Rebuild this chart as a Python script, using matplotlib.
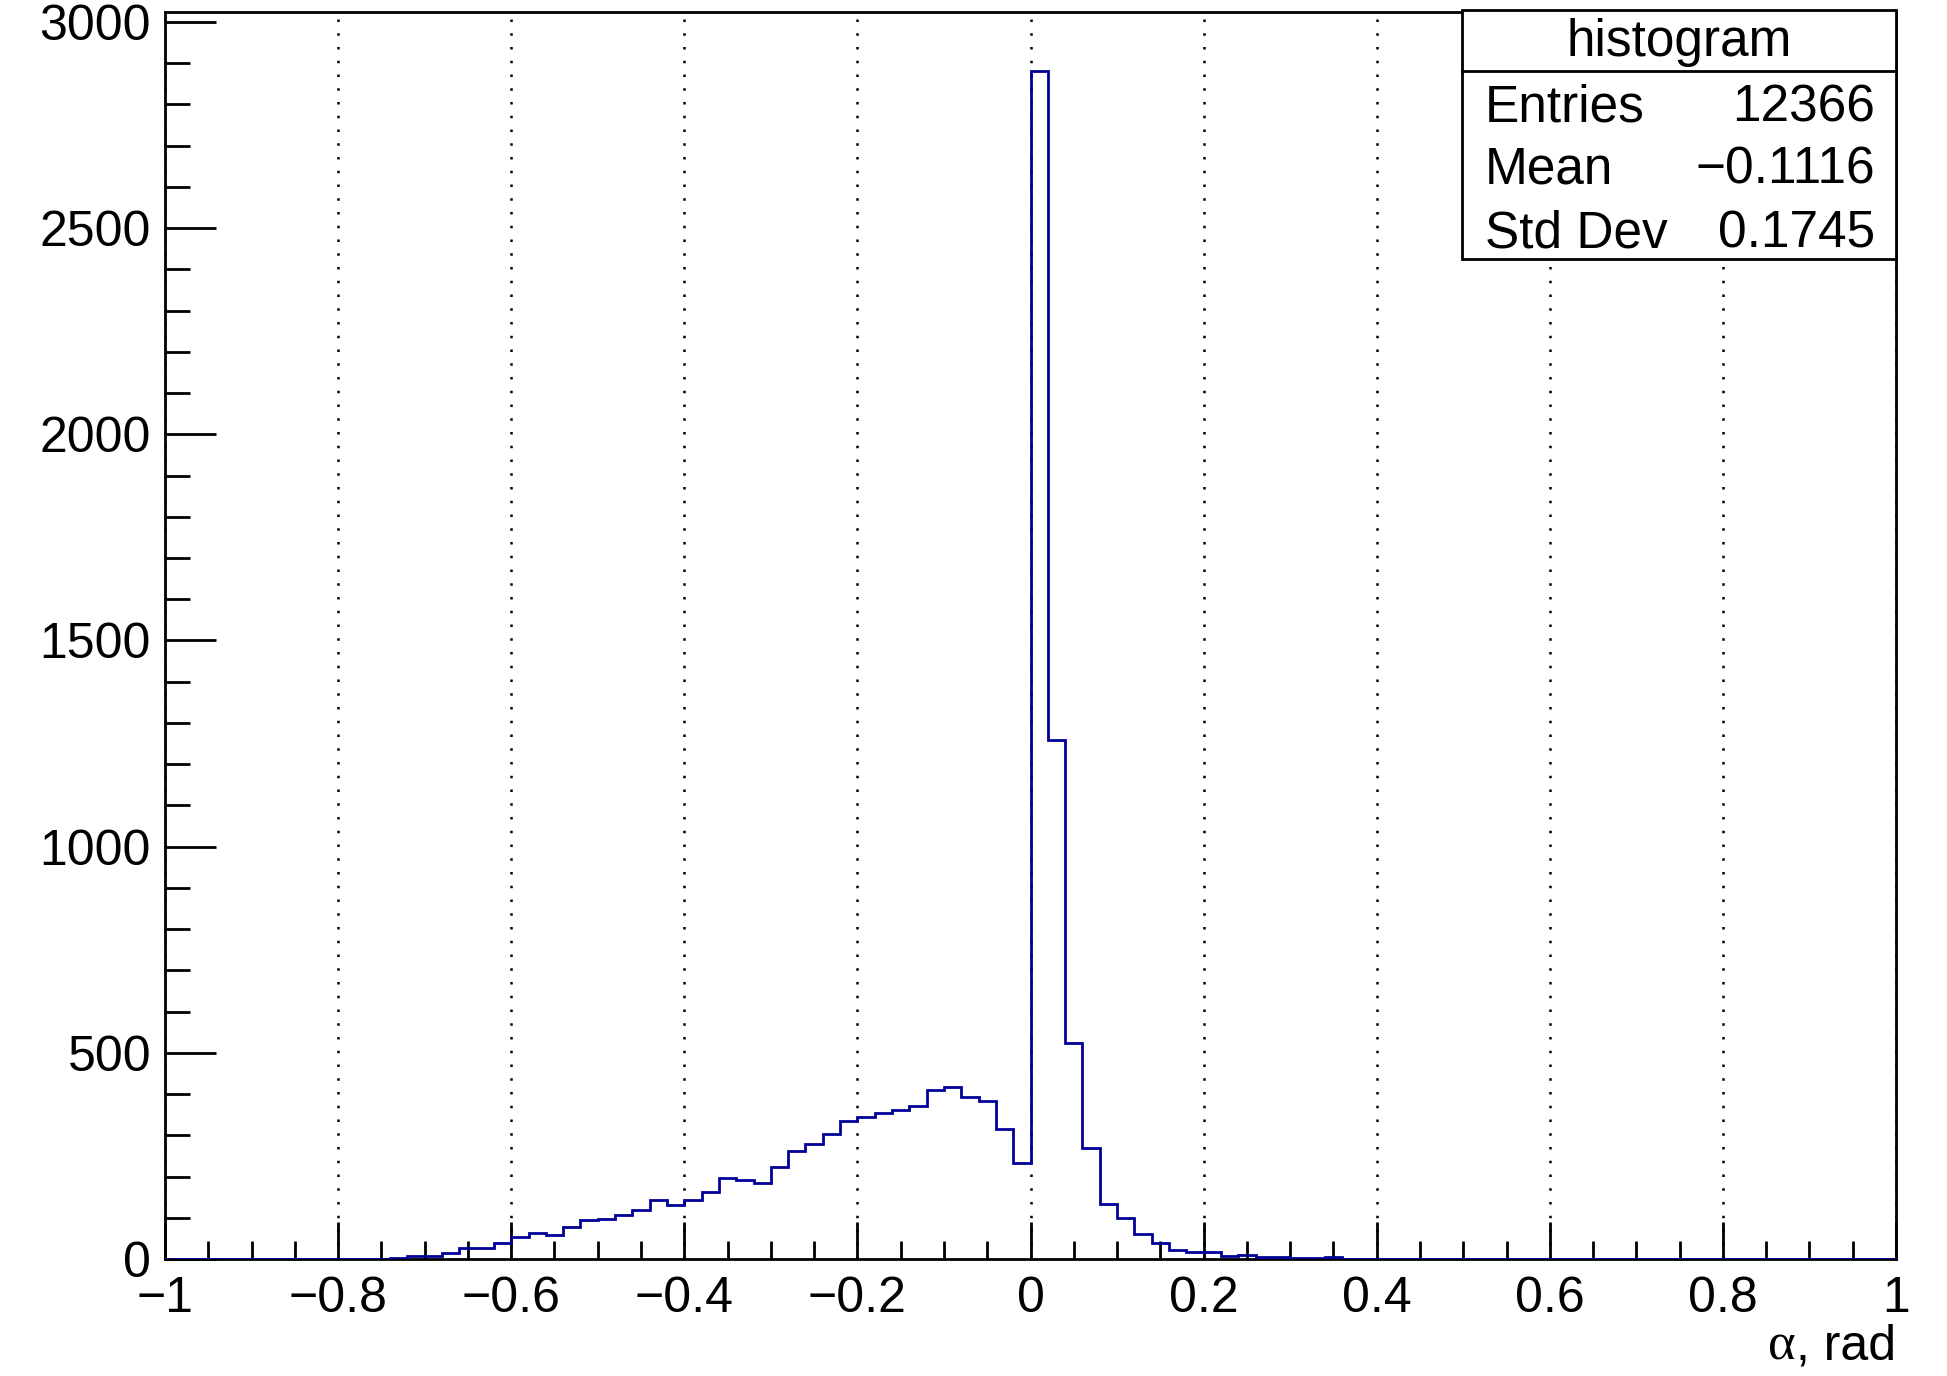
import numpy as np
import matplotlib
matplotlib.use("Agg")
import matplotlib.pyplot as plt
from matplotlib.patches import Rectangle
from matplotlib.ticker import FixedLocator, MultipleLocator

plt.rcParams['font.family'] = ['Liberation Sans', 'DejaVu Sans']

# ---- data ----
bin_edges_range = (-1.0, 1.0)
n_bins = 100
counts = [
    0, 0, 0, 0, 0, 0, 0, 0, 0, 0,          # -1.00 .. -0.80
    0, 0, 1, 3, 8, 8, 15, 26, 27, 39,      # -0.80 .. -0.60
    53, 63, 58, 78, 94, 98, 106, 120, 142, 130,   # -0.60 .. -0.40
    144, 162, 196, 192, 184, 224, 261, 278, 304, 335,  # -0.40 .. -0.20
    344, 353, 362, 371, 411, 418, 392, 384, 315, 232,  # -0.20 .. 0.00
    2880, 1258, 525, 269, 133, 100, 61, 39, 21, 16,   # 0.00 .. 0.20
    17, 8, 10, 6, 6, 3, 3, 4, 1, 1,        # 0.20 .. 0.40
    0, 0, 0, 0, 0, 0, 0, 0, 0, 0,          # 0.40 .. 0.60
    0, 0, 0, 0, 0, 0, 0, 0, 0, 0,          # 0.60 .. 0.80
    0, 0, 0, 0, 0, 0, 0, 0, 0, 0,          # 0.80 .. 1.00
]
x_ticks = [-1, -0.8, -0.6, -0.4, -0.2, 0, 0.2, 0.4, 0.6, 0.8, 1]
x_tick_labels = ["\u22121", "\u22120.8", "\u22120.6", "\u22120.4", "\u22120.2",
                 "0", "0.2", "0.4", "0.6", "0.8", "1"]
y_ticks = [0, 500, 1000, 1500, 2000, 2500, 3000]
y_tick_labels = ["0", "500", "1000", "1500", "2000", "2500", "3000"]
stats_title = "histogram"
stats_names = ["Entries", "Mean", "Std Dev"]
stats_values = ["12366", "\u22120.1116", "0.1745"]
x_label_symbol = "\u03b1"
x_label_rest = ", rad"

# ---- figure ----
W, H = 1947, 1376
fig = plt.figure(figsize=(W / 100, H / 100), dpi=100)

def fx(px):
    return px / W

def fy(py):
    return 1 - py / H

ax_left, ax_right, ax_top, ax_bot = 165, 1896, 12, 1259
ax = fig.add_axes([fx(ax_left), fy(ax_bot), fx(ax_right - ax_left), (ax_bot - ax_top) / H])

edges = np.linspace(bin_edges_range[0], bin_edges_range[1], n_bins + 1)
ax.stairs(counts, edges, color='#000099', lw=2.0, zorder=3)

ax.set_xlim(-1, 1)
ax.set_ylim(0, max(counts) * 1.05)

ax.xaxis.set_major_locator(FixedLocator(x_ticks))
ax.set_xticklabels(x_tick_labels)
ax.xaxis.set_minor_locator(MultipleLocator(0.05))
ax.yaxis.set_major_locator(FixedLocator(y_ticks))
ax.set_yticklabels(y_tick_labels)
ax.yaxis.set_minor_locator(MultipleLocator(100))

TS = 36
ax.tick_params(axis='x', which='major', direction='in', length=27, width=2,
               labelsize=TS, pad=12, top=False)
ax.tick_params(axis='x', which='minor', direction='in', length=13, width=2, top=False)
ax.tick_params(axis='y', which='major', direction='in', length=37, width=2,
               labelsize=TS, pad=10, right=False)
ax.tick_params(axis='y', which='minor', direction='in', length=18, width=2, right=False)

for s in ax.spines.values():
    s.set_linewidth(2)
    s.set_color('black')

ax.grid(axis='x', which='major', color='black', linestyle=(0, (1.0, 4.5)), lw=1.8, zorder=1)
ax.set_axisbelow(True)

# x label at bottom right: Greek symbol in serif, rest in sans
t_rest = fig.text(fx(ax_right), fy(1360), x_label_rest, ha='right', va='baseline', fontsize=TS)
renderer = fig.canvas.get_renderer()
bb = t_rest.get_window_extent(renderer=renderer)
fig.text(bb.x0 / W, fy(1360), x_label_symbol, ha='right', va='baseline',
         fontsize=TS + 2, family=['Liberation Serif', 'DejaVu Serif'])

# ---- stats box ----
bx0, bx1, by0, by1 = 1462, 1896, 10, 259
fig.patches.append(Rectangle((fx(bx0), fy(by1)), fx(bx1 - bx0), (by1 - by0) / H,
                             transform=fig.transFigure, facecolor='white',
                             edgecolor='black', lw=2, zorder=5))
fig.lines.append(plt.Line2D([fx(bx0), fx(bx1)], [fy(71), fy(71)],
                            transform=fig.transFigure, color='black', lw=2, zorder=6))
SS = 37
fig.text(fx((bx0 + bx1) / 2), fy(56), stats_title, ha='center', va='baseline',
         fontsize=SS, zorder=7)
row_y = [122, 184, 247]
for name, val, yy in zip(stats_names, stats_values, row_y):
    fig.text(fx(1485), fy(yy), name, ha='left', va='baseline', fontsize=SS, zorder=7)
    fig.text(fx(1875), fy(yy), val, ha='right', va='baseline', fontsize=SS, zorder=7)

fig.savefig("out.png", dpi=100)
